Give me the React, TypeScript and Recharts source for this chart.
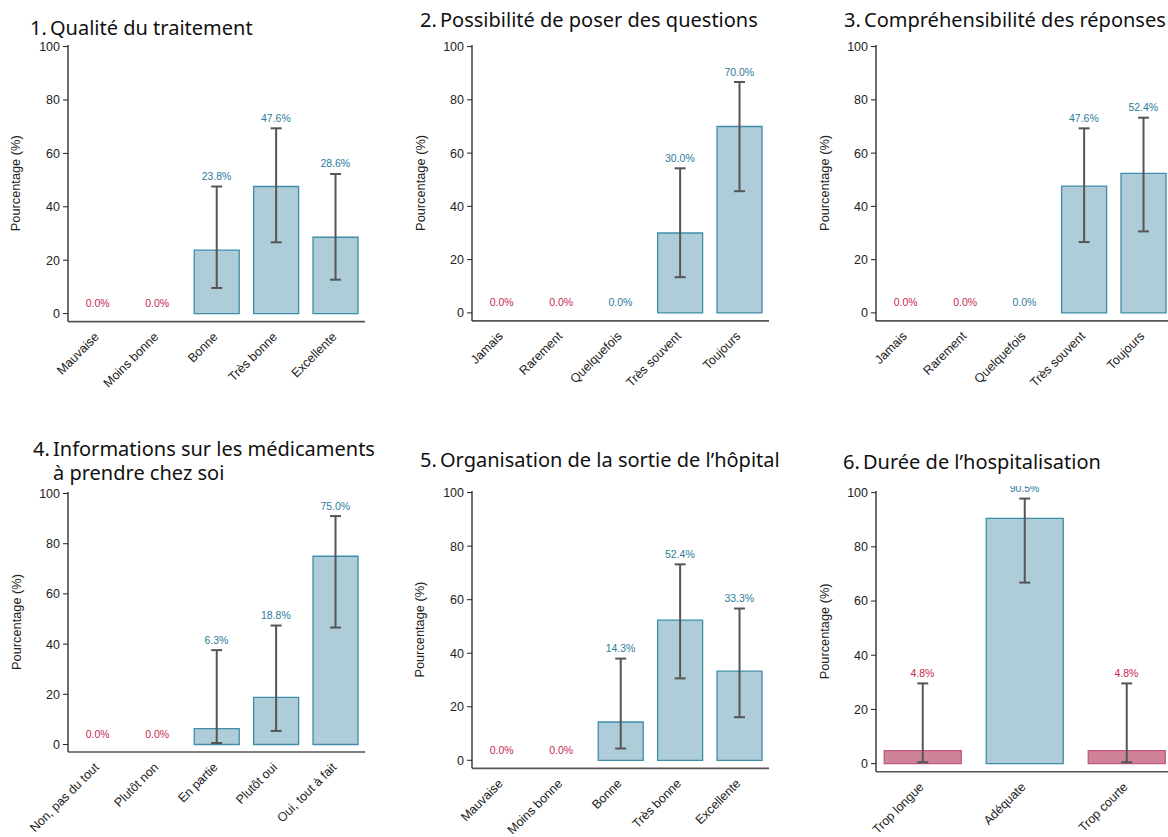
import { Bar, Cell, ComposedChart, ErrorBar, Line, XAxis, YAxis } from "recharts"

// --- data (percent, with 95% CI bounds) ---
const q1Categories = ["Mauvaise", "Moins bonne", "Bonne", "Très bonne", "Excellente"]
const q1Values = [0, 0, 23.8, 47.6, 28.6]
const q1Lower = [null, null, 9.6, 26.7, 12.7]
const q1Upper = [null, null, 47.6, 69.4, 52.3]
const q1Unfavourable = [true, true, false, false, false]

const q2Categories = ["Jamais", "Rarement", "Quelquefois", "Très souvent", "Toujours"]
const q2Values = [0, 0, 0, 30.0, 70.0]
const q2Lower = [null, null, null, 13.4, 45.7]
const q2Upper = [null, null, null, 54.3, 86.7]
const q2Unfavourable = [true, true, false, false, false]

const q3Categories = ["Jamais", "Rarement", "Quelquefois", "Très souvent", "Toujours"]
const q3Values = [0, 0, 0, 47.6, 52.4]
const q3Lower = [null, null, null, 26.6, 30.6]
const q3Upper = [null, null, null, 69.3, 73.3]
const q3Unfavourable = [true, true, false, false, false]

const q4Categories = ["Non, pas du tout", "Plutôt non", "En partie", "Plutôt oui", "Oui, tout à fait"]
const q4Values = [0, 0, 6.3, 18.8, 75.0]
const q4Lower = [null, null, 0.6, 5.4, 46.6]
const q4Upper = [null, null, 37.6, 47.4, 91.0]
const q4Unfavourable = [true, true, false, false, false]

const q5Categories = ["Mauvaise", "Moins bonne", "Bonne", "Très bonne", "Excellente"]
const q5Values = [0, 0, 14.3, 52.4, 33.3]
const q5Lower = [null, null, 4.4, 30.6, 16.1]
const q5Upper = [null, null, 38.0, 73.2, 56.7]
const q5Unfavourable = [true, true, false, false, false]

const q6Categories = ["Trop longue", "Adéquate", "Trop courte"]
const q6Values = [4.8, 90.5, 4.8]
const q6Lower = [0.5, 66.8, 0.5]
const q6Upper = [29.6, 97.8, 29.6]
const q6Unfavourable = [true, false, true]

const yTicks = [0, 20, 40, 60, 80, 100]

// --- styling ---
const BLUE_FILL = "#aecdd8"
const BLUE_EDGE = "#3f8da8"
const PINK_FILL = "#cf8399"
const PINK_EDGE = "#c2587c"
const BLUE_TEXT = "#2b7b9b"
const RED_TEXT = "#c8264f"
const ERR = "#555555"
const SANS = "'Liberation Sans', Arial, sans-serif"
const TITLE_FONT = "'Noto Sans', 'Open Sans', sans-serif"

const MARGIN_TOP = 20
const MARGIN_LEFT = 20
const AXIS_W = 40
const XAXIS_H = 95

function XTick({ x, y, payload }: any) {
  const px = x + 2
  const py = y + 16
  return (
    <text
      x={px}
      y={py}
      transform={`rotate(-45 ${px} ${py})`}
      textAnchor="end"
      fontSize={12.5}
      fontFamily={SANS}
      fill="#222"
    >
      {payload.value}
    </text>
  )
}

function YLabel({ viewBox }: any) {
  const cx = viewBox.x + viewBox.width - 52
  const cy = viewBox.y + viewBox.height / 2
  return (
    <text
      x={cx}
      y={cy}
      transform={`rotate(-90 ${cx} ${cy})`}
      textAnchor="middle"
      dominantBaseline="central"
      fontSize={12.8}
      fontFamily={SANS}
      fill="#222"
    >
      Pourcentage (%)
    </text>
  )
}

function QuestionChart({ id, categories, values, lower, upper, unfavourable, axisX, y100, y0, step, padLeft = 0 }: any) {
  const data = categories.map((name: string, i: number) => ({
    name,
    value: values[i],
    err: upper[i] == null ? null : [values[i] - lower[i], upper[i] - values[i]],
    labelAt: upper[i] ?? values[i],
    bad: unfavourable[i],
  }))

  const ppu = (y0 - y100) / 100
  const plotTop = y100 - 0.6 * ppu
  const plotBottom = y0 + 3 * ppu
  const plotWidth = categories.length * step + padLeft
  const width = MARGIN_LEFT + AXIS_W + plotWidth + 10
  const height = MARGIN_TOP + (plotBottom - plotTop) + XAXIS_H

  // value labels sit 10px above the CI cap (or the baseline), clipped just above the plot
  const renderLabel = (props: any) => {
    const { cx, cy, payload, index } = props
    if (cx == null || cy == null) return <g key={`l-${index}`} />
    const clip = `${id}-clip-${index}`
    return (
      <g key={`l-${index}`}>
        <defs>
          <clipPath id={clip}>
            <rect x={cx - 40} y={MARGIN_TOP - 5} width={80} height={2000} />
          </clipPath>
        </defs>
        <text
          x={cx}
          y={cy - 10}
          textAnchor="middle"
          dominantBaseline="central"
          fontSize={10.5}
          fontFamily={SANS}
          fill={payload.bad ? RED_TEXT : BLUE_TEXT}
          clipPath={`url(#${clip})`}
        >
          {`${payload.value.toFixed(1)}%`}
        </text>
      </g>
    )
  }

  return (
    <div style={{ position: "absolute", left: axisX - AXIS_W - MARGIN_LEFT, top: plotTop - MARGIN_TOP }}>
      <ComposedChart
        width={width}
        height={height}
        data={data}
        margin={{ top: MARGIN_TOP, left: MARGIN_LEFT, right: 10, bottom: 0 }}
        barCategoryGap="12.5%"
        style={{ overflow: "visible" }}
      >
        <XAxis
          dataKey="name"
          height={XAXIS_H}
          interval={0}
          tickLine={false}
          tickSize={0}
          tickMargin={0}
          axisLine={{ stroke: "#555", strokeWidth: 1.6 }}
          tick={<XTick />}
          padding={{ left: padLeft, right: 0 }}
        />
        <YAxis
          width={AXIS_W}
          domain={[-3, 100.6]}
          ticks={yTicks}
          tickSize={5}
          tickMargin={3}
          axisLine={{ stroke: "#222", strokeWidth: 1.3 }}
          tickLine={{ stroke: "#222", strokeWidth: 1 }}
          tick={{ fontSize: 12.5, fontFamily: SANS, fill: "#222" }}
          label={<YLabel />}
        />
        <Bar dataKey="value" isAnimationActive={false} strokeWidth={1.3}>
          {data.map((d: any, i: number) => (
            <Cell key={i} fill={d.bad ? PINK_FILL : BLUE_FILL} stroke={d.bad ? PINK_EDGE : BLUE_EDGE} />
          ))}
          <ErrorBar dataKey="err" width={5.5} strokeWidth={2} stroke={ERR} direction="y" />
        </Bar>
        <Line
          dataKey="labelAt"
          stroke="none"
          dot={renderLabel}
          activeDot={false}
          isAnimationActive={false}
        />
      </ComposedChart>
    </div>
  )
}

function Title({ x, y, num, lines }: { x: number; y: number; num: string; lines: string[] }) {
  return (
    <text fontFamily={TITLE_FONT} fontSize={20} fill="#111">
      <tspan x={x - 2} y={y}>{num}</tspan>
      {lines.map((t, i) => (
        <tspan key={i} x={x + 18} y={y + i * 24}>
          {t}
        </tspan>
      ))}
    </text>
  )
}

export default function App() {
  return (
    <div
      style={{
        position: "absolute",
        left: 0,
        top: 0,
        width: 1168,
        height: 837,
        overflow: "hidden",
        background: "#fff",
      }}
    >
      <QuestionChart id="q1" categories={q1Categories} values={q1Values} lower={q1Lower} upper={q1Upper}
        unfavourable={q1Unfavourable} axisX={68} y100={47} y0={314} step={59.4} />
      <QuestionChart id="q2" categories={q2Categories} values={q2Values} lower={q2Lower} upper={q2Upper}
        unfavourable={q2Unfavourable} axisX={472} y100={47} y0={313.3} step={59.4} />
      <QuestionChart id="q3" categories={q3Categories} values={q3Values} lower={q3Lower} upper={q3Upper}
        unfavourable={q3Unfavourable} axisX={876} y100={47} y0={313.3} step={59.4} />
      <QuestionChart id="q4" categories={q4Categories} values={q4Values} lower={q4Lower} upper={q4Upper}
        unfavourable={q4Unfavourable} axisX={68} y100={493.3} y0={744.3} step={59.4} />
      <QuestionChart id="q5" categories={q5Categories} values={q5Values} lower={q5Lower} upper={q5Upper}
        unfavourable={q5Unfavourable} axisX={472} y100={493} y0={760.7} step={59.4} />
      <QuestionChart id="q6" categories={q6Categories} values={q6Values} lower={q6Lower} upper={q6Upper}
        unfavourable={q6Unfavourable} axisX={875.5} y100={493} y0={764} step={102} padLeft={-4.5} />

      <svg width={1168} height={837} style={{ position: "absolute", left: 0, top: 0, pointerEvents: "none" }}>
        <Title x={32} y={35} num="1." lines={["Qualité du traitement"]} />
        <Title x={422} y={27} num="2." lines={["Possibilité de poser des questions"]} />
        <Title x={846} y={27} num="3." lines={["Compréhensibilité des réponses"]} />
        <Title x={35} y={456} num="4." lines={["Informations sur les médicaments", "à prendre chez soi"]} />
        <Title x={422} y={467} num="5." lines={["Organisation de la sortie de l’hôpital"]} />
        <Title x={845} y={469} num="6." lines={["Durée de l’hospitalisation"]} />
      </svg>
    </div>
  )
}
